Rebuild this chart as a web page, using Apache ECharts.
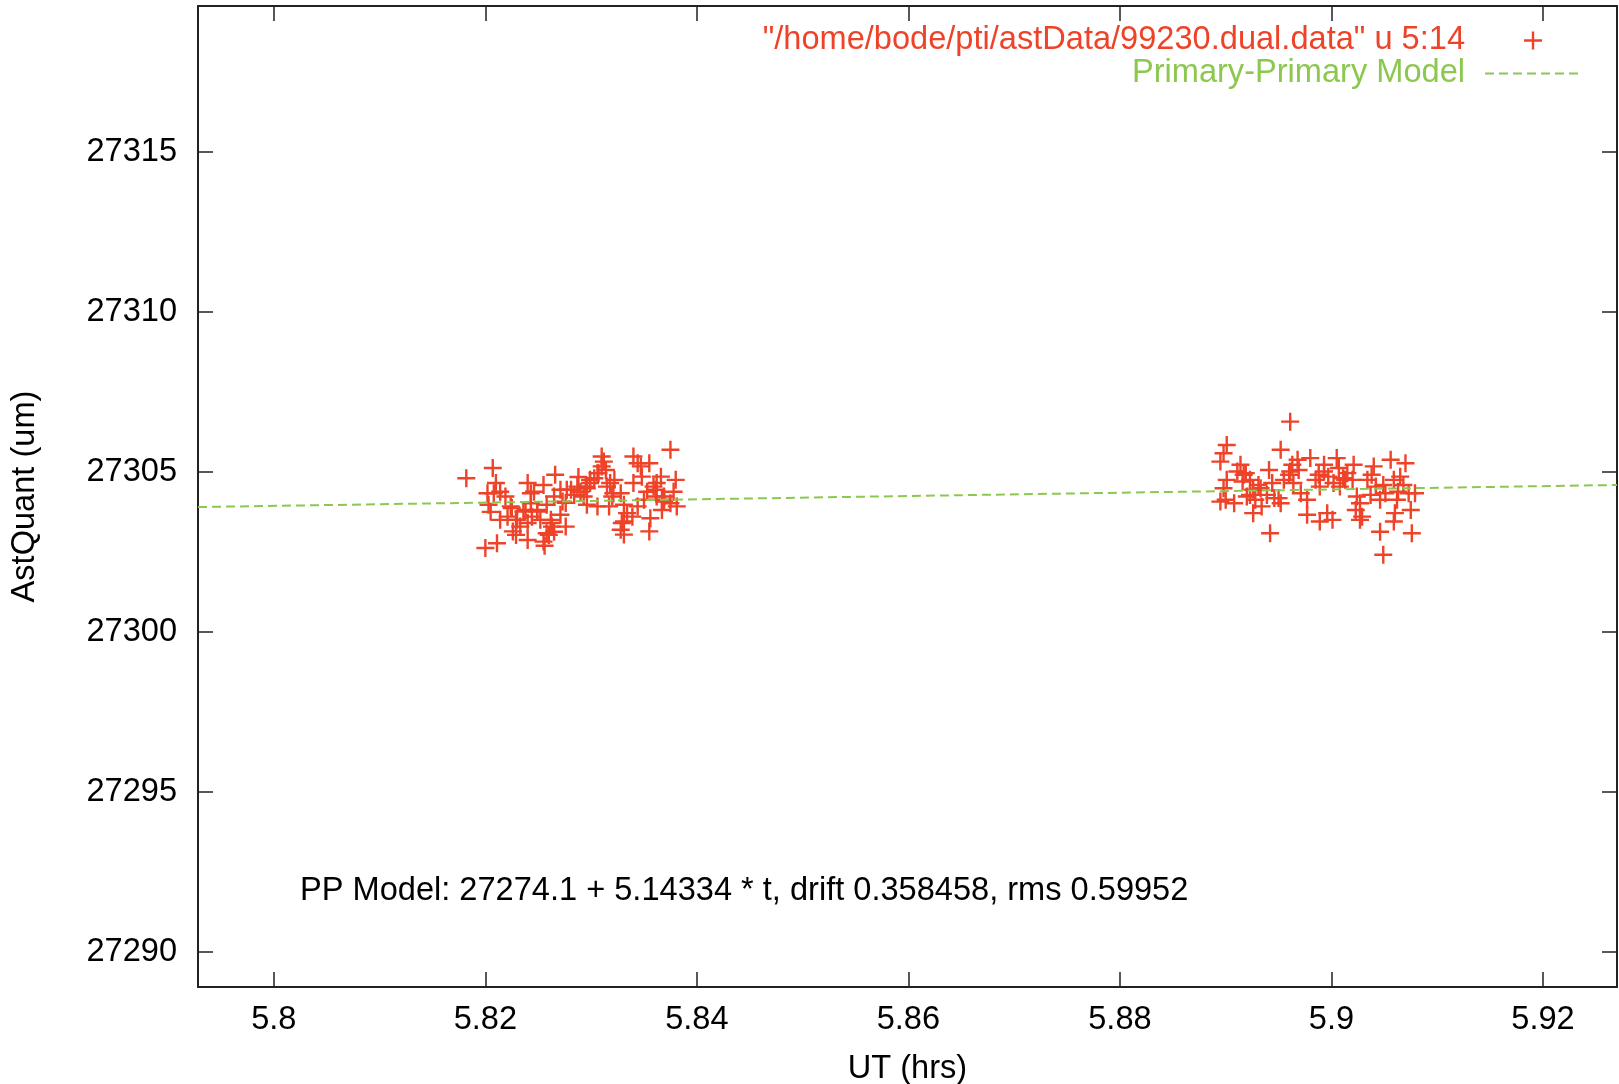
<!DOCTYPE html>
<html>
<head>
<meta charset="utf-8">
<script src="https://cdn.jsdelivr.net/npm/echarts@6/dist/echarts.min.js"></script>
<style>
  html, body { margin: 0; padding: 0; background: #fff; }
  #chart { width: 1619px; height: 1084px; }
</style>
</head>
<body>
<div id="chart"></div>
<script>
const utHours = [
  5.8182, 5.8207, 5.8200, 5.8211, 5.8210, 5.8202, 5.8203, 5.8214, 5.8219, 5.8224,
  5.8221, 5.8229, 5.8233, 5.8238, 5.8243, 5.8246, 5.8244, 5.8249, 5.8252, 5.8255,
  5.8258, 5.8262, 5.8263, 5.8266, 5.8265, 5.8260, 5.8255, 5.8265, 5.8271, 5.8276,
  5.8273, 5.8281, 5.8284, 5.8287, 5.8290, 5.8293, 5.8296, 5.8299, 5.8303, 5.8307,
  5.8312, 5.8314, 5.8310, 5.8296, 5.8306, 5.8315, 5.8320, 5.8317, 5.8328, 5.8331,
  5.8334, 5.8329, 5.8340, 5.8347, 5.8348, 5.8355, 5.8340, 5.8339, 5.8344, 5.8356,
  5.8361, 5.8366, 5.8362, 5.8369, 5.8375, 5.8380, 5.8378, 5.8375, 5.8381, 5.8367,
  5.8350, 5.8353, 5.8214, 5.8205, 5.8229, 5.8240, 5.8276, 5.8288, 5.8322, 5.8240,
  5.8355, 5.8331, 5.8226, 5.8256, 5.8328, 5.8208, 5.8225, 5.8236, 5.8230, 5.8240,
  5.8249, 5.8243, 5.8262, 5.8258, 5.8271, 5.8277, 5.8295, 5.8299, 5.8306, 5.8310,
  5.8318, 5.8321, 5.8331, 5.8344, 5.8359, 5.8362, 5.8369, 5.8367,
  5.8961, 5.8901, 5.8898, 5.8895, 5.8952, 5.8914, 5.8911, 5.8919, 5.8923, 5.8916,
  5.8901, 5.8898, 5.8900, 5.8908, 5.8920, 5.8926, 5.8928, 5.8931, 5.8926, 5.8934,
  5.8939, 5.8941, 5.8944, 5.8942, 5.8950, 5.8952, 5.8955, 5.8960, 5.8963, 5.8968,
  5.8969, 5.8964, 5.8971, 5.8977, 5.8980, 5.8977, 5.8985, 5.8988, 5.8989, 5.8993,
  5.8996, 5.8989, 5.9001, 5.8997, 5.9002, 5.9005, 5.9007, 5.9008, 5.9013, 5.9015,
  5.9021, 5.9020, 5.9024, 5.9027, 5.9023, 5.9029, 5.9034, 5.9040, 5.9038, 5.9042,
  5.9037, 5.9046, 5.9049, 5.9046, 5.9051, 5.9056, 5.9059, 5.9065, 5.9062, 5.9060,
  5.9070, 5.9068, 5.9073, 5.9075, 5.9076, 5.9079, 5.9027, 5.9059, 5.8895, 5.8917,
  5.8923, 5.8933, 5.8946, 5.8961, 5.8993, 5.9011, 5.9049, 5.9063
]
const astQuant = [
  27304.80, 27305.12, 27302.62, 27302.77, 27304.65, 27304.33, 27303.97, 27304.38, 27304.23, 27303.92,
  27303.60, 27303.50, 27303.29, 27303.81, 27304.02, 27304.38, 27303.60, 27303.81, 27303.50, 27304.59,
  27303.97, 27303.50, 27303.29, 27304.91, 27304.23, 27303.03, 27302.82, 27303.13, 27303.66, 27303.29,
  27304.07, 27304.44, 27304.28, 27304.54, 27304.38, 27304.23, 27304.49, 27304.65, 27304.80, 27304.96,
  27305.32, 27305.06, 27305.48, 27303.97, 27303.92, 27304.54, 27304.23, 27303.92, 27304.33, 27303.97,
  27303.71, 27303.40, 27305.48, 27305.17, 27304.85, 27305.27, 27304.65, 27303.60, 27303.92, 27303.55,
  27304.44, 27304.85, 27304.65, 27304.23, 27305.69, 27304.75, 27304.38, 27304.02, 27303.92, 27304.13,
  27304.13, 27304.38, 27303.50, 27303.75, 27303.03, 27302.87, 27304.03, 27304.84, 27304.75, 27304.65,
  27303.14, 27303.04, 27303.14, 27302.69, 27303.19, 27304.33, 27303.87, 27303.76, 27303.50, 27303.40,
  27303.76, 27304.33, 27303.40, 27303.08, 27304.44, 27304.44, 27304.54, 27304.75, 27304.96, 27305.17,
  27304.65, 27304.33, 27303.45, 27305.27, 27304.54, 27304.23, 27304.07, 27303.81,
  27306.57, 27305.84, 27305.58, 27305.32, 27305.69, 27305.22, 27305.01, 27304.96, 27304.75, 27304.70,
  27304.75, 27304.49, 27304.13, 27304.02, 27304.23, 27304.44, 27304.13, 27304.59, 27303.71, 27303.92,
  27304.28, 27305.06, 27304.65, 27303.08, 27304.18, 27304.02, 27304.75, 27304.91, 27305.22, 27305.38,
  27305.06, 27304.65, 27304.33, 27304.13, 27305.43, 27303.66, 27304.75, 27304.91, 27304.54, 27305.22,
  27303.71, 27303.45, 27303.50, 27304.85, 27304.65, 27305.43, 27305.12, 27304.54, 27304.75, 27304.96,
  27305.22, 27304.75, 27304.23, 27304.02, 27303.81, 27303.60, 27304.75, 27305.17, 27304.91, 27304.54,
  27304.28, 27303.13, 27302.41, 27304.13, 27304.33, 27305.38, 27304.75, 27304.85, 27304.13, 27303.71,
  27305.27, 27304.59, 27304.33, 27303.81, 27303.08, 27304.33, 27303.50, 27303.45, 27304.07, 27304.91,
  27304.28, 27304.49, 27304.18, 27305.01, 27305.01, 27304.80, 27304.59, 27304.38
]

// Primary-Primary model line, end points read at the plot edges
const modelTimes = [5.79283, 5.927]
const modelValues = [27303.90, 27304.59]

const xRange = [5.79283, 5.927]
const yRange = [27288.9, 27319.56]

const dataName = '"/home/bode/pti/astData/99230.dual.data" u 5:14'
const modelName = 'Primary-Primary Model'
const noteText = 'PP Model: 27274.1 + 5.14334 * t, drift 0.358458, rms 0.59952'

const red = '#ee4329'
const green = '#8cc850'
const ink = '#222'
const font = '"Liberation Sans", Arial, Helvetica, sans-serif'
const fontSize = 32.6
const plus = 'path://M0,7.8H7.8V0H10.2V7.8H18V10.2H10.2V18H7.8V10.2H0Z'

const fmt = (v) => String(parseFloat(Number(v).toFixed(4)))

const chart = echarts.init(document.getElementById('chart'), null, { renderer: 'canvas' })

const frameAxis = (extra) => Object.assign({
  type: 'value',
  scale: true,
  axisLine: { show: true, onZero: false, lineStyle: { color: ink, width: 2 } },
  axisTick: { show: true, inside: true, length: 15, lineStyle: { color: ink, width: 1.5 } },
  splitLine: { show: false }
}, extra)

const option = {
  animation: false,
  backgroundColor: '#fff',
  textStyle: { fontFamily: font },
  grid: { left: 198, right: 2, top: 6, bottom: 97, containLabel: false, outerBoundsMode: 'none' },
  legend: {
    orient: 'vertical',
    right: 32,
    top: 19,
    align: 'right',
    itemWidth: 96,
    itemHeight: 18,
    itemGap: 0,
    selectedMode: false,
    textStyle: { fontSize: fontSize, fontFamily: font, padding: [0, 15, 0, 0] },
    data: [
      { name: dataName, icon: plus, textStyle: { color: red } },
      { name: modelName, itemStyle: { opacity: 0 }, textStyle: { color: green } }
    ]
  },
  xAxis: [
    frameAxis({
      position: 'bottom',
      min: xRange[0], max: xRange[1],
      minInterval: 0.02, maxInterval: 0.02,
      name: 'UT (hrs)',
      nameLocation: 'middle',
      nameGap: 66,
      nameTextStyle: { fontSize: fontSize, color: '#000', fontFamily: font },
      axisLabel: {
        show: true, margin: 17, fontSize: fontSize, color: '#000', fontFamily: font,
        showMinLabel: false, showMaxLabel: false, formatter: fmt
      }
    }),
    frameAxis({
      position: 'top',
      min: xRange[0], max: xRange[1],
      minInterval: 0.02, maxInterval: 0.02,
      axisLabel: { show: false }
    })
  ],
  yAxis: [
    frameAxis({
      position: 'left',
      min: yRange[0], max: yRange[1],
      minInterval: 5, maxInterval: 5,
      name: 'AstQuant (um)',
      nameLocation: 'middle',
      nameGap: 156,
      nameTextStyle: { fontSize: fontSize, color: '#000', fontFamily: font },
      axisLabel: {
        show: true, margin: 21, fontSize: fontSize, color: '#000', fontFamily: font,
        showMinLabel: false, showMaxLabel: false, formatter: fmt
      }
    }),
    frameAxis({
      position: 'right',
      min: yRange[0], max: yRange[1],
      minInterval: 5, maxInterval: 5,
      axisLabel: { show: false }
    })
  ],
  graphic: [
    {
      type: 'text',
      left: 300,
      top: 875,
      style: { text: noteText, fontSize: fontSize, fontFamily: font, fill: '#000' }
    }
  ],
  series: [
    {
      name: dataName,
      type: 'scatter',
      symbol: plus,
      symbolSize: 18,
      itemStyle: { color: red, opacity: 1 },
      z: 2,
      data: utHours.map((t, i) => [t, astQuant[i]])
    },
    {
      name: modelName,
      type: 'line',
      symbol: 'none',
      z: 3,
      lineStyle: { color: green, width: 2, type: [9, 5] },
      itemStyle: { color: green },
      data: modelTimes.map((t, i) => [t, modelValues[i]])
    }
  ]
}

chart.setOption(option)
</script>
</body>
</html>
